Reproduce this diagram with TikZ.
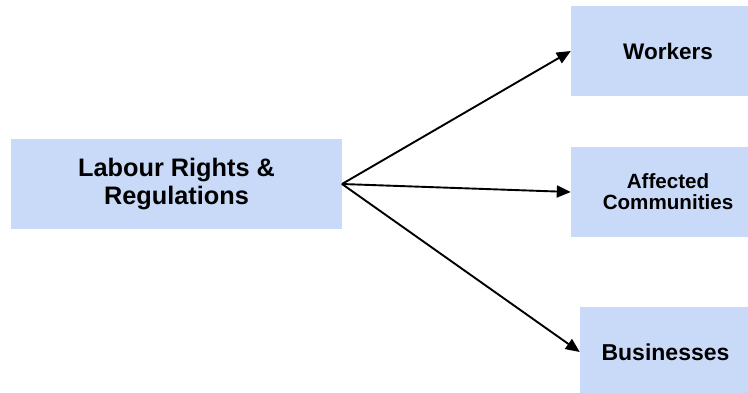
\documentclass[tikz,border=0pt]{standalone}
\usepackage{fontspec}
\setmainfont{Liberation Sans}
\usetikzlibrary{arrows.meta}
\definecolor{boxblue}{HTML}{C9DAF8}
\tikzset{
  box/.style={fill=boxblue, draw=none, rectangle, inner sep=0pt, align=center,
              font=\bfseries},
  link/.style={line width=1.9pt, -{Triangle[length=14pt,width=12pt]}},
}
\begin{document}
\begin{tikzpicture}[x=1pt, y=-1pt]
  \useasboundingbox (0,0) rectangle (748,392);
  \clip (0,0) rectangle (748,392);
  \node[box, minimum width=331pt, minimum height=90pt,
        font=\bfseries\fontsize{25.3}{28}\selectfont] (law) at (176.5,184)
        {Labour Rights \&\\Regulations};
  \node[box, minimum width=194pt, minimum height=90pt,
        font=\bfseries\fontsize{22.5}{26}\selectfont] (work) at (668,51) {Workers};
  \node[box, minimum width=194pt, minimum height=90pt,
        font=\bfseries\fontsize{20.6}{21}\selectfont] (comm) at (668,192)
        {Affected\\Communities};
  \node[box, minimum width=171pt, minimum height=90pt,
        font=\bfseries\fontsize{23}{26}\selectfont] (biz) at (665.5,352) {Businesses};
  \coordinate (src) at (342,184);
  \draw[link] (src) -- (work.west);
  \draw[link] (src) -- (comm.west);
  \draw[link] (src) -- (biz.west);
\end{tikzpicture}
\end{document}
